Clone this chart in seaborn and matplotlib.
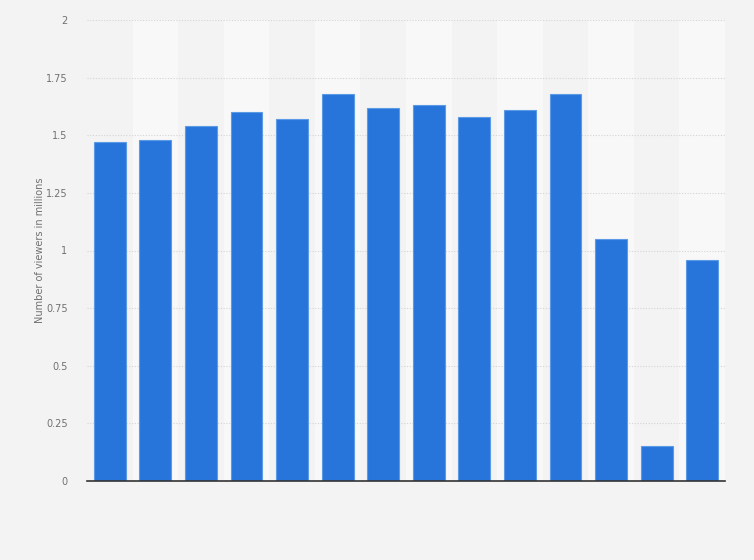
import matplotlib
matplotlib.use("Agg")
import matplotlib.pyplot as plt
import seaborn as sns
import pandas as pd
import numpy as np

categories = [f"c{i}" for i in range(1, 15)]
viewers = [1.47, 1.48, 1.54, 1.60, 1.57, 1.68, 1.62, 1.63, 1.58, 1.61, 1.68, 1.05, 0.15, 0.96]
y_ticks = [0, 0.25, 0.5, 0.75, 1, 1.25, 1.5, 1.75, 2]
y_tick_labels = ["0", "0.25", "0.5", "0.75", "1", "1.25", "1.5", "1.75", "2"]
y_label = "Number of viewers in millions"

df = pd.DataFrame({"category": categories, "viewers": viewers})

sns.set_theme(style="white")
plt.rcParams['font.family'] = ['DejaVu Sans']

bg = "#f3f3f3"
fig = plt.figure(figsize=(7.54, 5.60), dpi=100, facecolor=bg)
ax = fig.add_axes([87/754, 79/560, 638/754, 461/560])
ax.set_facecolor(bg)

# alternating column bands
for i in range(len(categories)):
    if i % 2 == 1:
        ax.axvspan(i - 0.5, i + 0.5, color="#f8f8f8", zorder=0, lw=0)

sns.barplot(data=df, x="category", y="viewers", color="#2775db", saturation=1,
            width=0.70, edgecolor="#5c9ae6", linewidth=0.8, ax=ax, zorder=3)

ax.set_xlim(-0.5, len(categories) - 0.5)
ax.set_ylim(0, 2)
ax.set_yticks(y_ticks)
ax.set_yticklabels(y_tick_labels)
ax.yaxis.grid(True, color="#d4d4d4", linestyle=(0, (1, 1.5)), linewidth=0.8, zorder=1)
ax.set_axisbelow(True)
ax.set_xticks([])
ax.set_xlabel("")
ax.set_ylabel(y_label, fontsize=7, color="#707070")
ax.yaxis.set_label_coords(-42/638, 0.5)
ax.tick_params(axis="y", labelsize=7, colors="#707070", length=0, pad=14)
for s in ["top", "right", "left"]:
    ax.spines[s].set_visible(False)
ax.spines["bottom"].set_color("#333333")
ax.spines["bottom"].set_linewidth(1.2)
ax.spines["bottom"].set_zorder(5)

fig.savefig("out.png", dpi=100, facecolor=bg)
